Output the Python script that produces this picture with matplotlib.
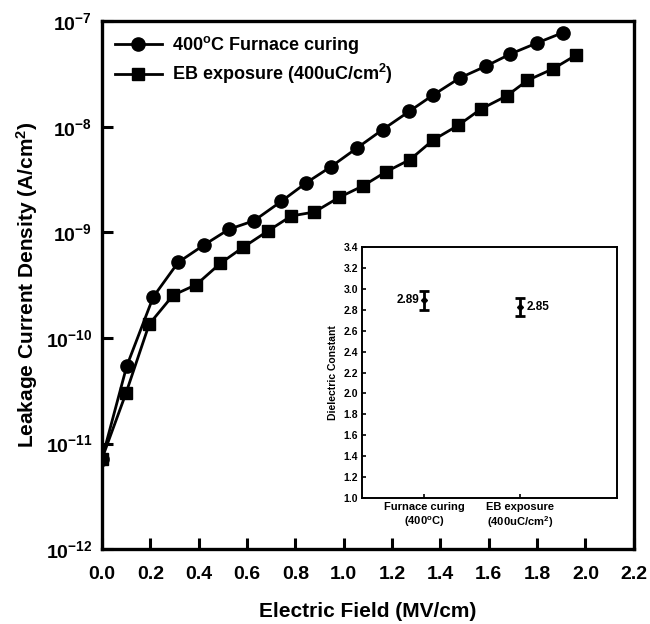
import matplotlib
matplotlib.use("Agg")
import matplotlib.pyplot as plt

plt.rcParams['font.family'] = ['Liberation Sans', 'DejaVu Sans']
plt.rcParams['font.weight'] = 'bold'
plt.rcParams['mathtext.fontset'] = 'custom'
plt.rcParams['mathtext.rm'] = 'Liberation Sans:bold'
plt.rcParams['mathtext.bf'] = 'Liberation Sans:bold'
plt.rcParams['mathtext.it'] = 'Liberation Sans:bold'

# leakage current, 400C furnace curing
field_furnace = [0.0, 0.102, 0.212, 0.315, 0.422, 0.525, 0.629, 0.742, 0.845, 0.948,
                 1.055, 1.161, 1.271, 1.37, 1.48, 1.588, 1.69, 1.798, 1.907]
j_furnace = [7.2e-12, 5.4e-11, 2.45e-10, 5.2e-10, 7.6e-10, 1.07e-9, 1.29e-9, 1.97e-9, 2.95e-9, 4.2e-9,
             6.3e-9, 9.4e-9, 1.4e-8, 2.0e-8, 2.9e-8, 3.75e-8, 4.9e-8, 6.2e-8, 7.8e-8]

# leakage current, EB exposure 400uC/cm2
field_eb = [0.0, 0.099, 0.195, 0.294, 0.39, 0.49, 0.583, 0.686, 0.783, 0.879, 0.98,
            1.079, 1.175, 1.275, 1.37, 1.473, 1.567, 1.674, 1.76, 1.867, 1.963]
j_eb = [7.2e-12, 3.0e-11, 1.35e-10, 2.54e-10, 3.2e-10, 5.1e-10, 7.2e-10, 1.03e-9, 1.43e-9, 1.56e-9, 2.14e-9,
        2.75e-9, 3.75e-9, 4.9e-9, 7.5e-9, 1.03e-8, 1.47e-8, 1.96e-8, 2.75e-8, 3.55e-8, 4.8e-8]

# inset: dielectric constant
k_names = ['Furnace curing\n(400$^{o}$C)', 'EB exposure\n(400uC/cm$^{2}$)']
k_values = [2.89, 2.83]
k_err = [0.09, 0.085]
k_labels = ['2.89', '2.85']

x_ticks = [0.0, 0.2, 0.4, 0.6, 0.8, 1.0, 1.2, 1.4, 1.6, 1.8, 2.0, 2.2]
y_ticks = [1e-12, 1e-11, 1e-10, 1e-9, 1e-8, 1e-7]
y_ticklabels = [r'$10^{-12}$', r'$10^{-11}$', r'$10^{-10}$', r'$10^{-9}$', r'$10^{-8}$', r'$10^{-7}$']

fig = plt.figure(figsize=(6.5, 6.24), dpi=100)
ax = fig.add_axes([0.157, 0.12, 0.818, 0.846])

ax.plot(field_furnace, j_furnace, '-o', color='black', lw=2, ms=9.5,
        label='400$^{o}$C Furnace curing')
ax.plot(field_eb, j_eb, '-s', color='black', lw=2, ms=9,
        label='EB exposure (400uC/cm$^{2}$)')

ax.set_yscale('log')
ax.set_xlim(0, 2.2)
ax.set_ylim(1e-12, 1e-7)
ax.set_xticks(x_ticks)
ax.set_xticklabels([f'{v:.1f}' for v in x_ticks], fontsize=14, fontweight='bold')
ax.set_yticks(y_ticks)
ax.set_yticklabels(y_ticklabels, fontsize=14)
ax.yaxis.set_minor_locator(matplotlib.ticker.NullLocator())
ax.tick_params(direction='in', length=8, width=2.2)
ax.tick_params(axis='x', pad=12)
ax.tick_params(axis='y', pad=7)
for s in ax.spines.values():
    s.set_linewidth(2.4)

ax.set_xlabel('Electric Field (MV/cm)', fontsize=15, fontweight='bold', labelpad=14)
ax.set_ylabel('Leakage Current Density (A/cm$^{2}$)', fontsize=15, fontweight='bold', labelpad=4)

ax.legend(loc='upper left', frameon=False, fontsize=13, handlelength=2.6,
          borderaxespad=0.3, labelspacing=0.35, handletextpad=0.6)

# inset
ins = fig.add_axes([0.557, 0.202, 0.392, 0.402])
ins.errorbar([0, 1], k_values, yerr=k_err, fmt='D', color='black', ms=3,
             capsize=3.5, capthick=2, elinewidth=2)
ins.set_xlim(-0.645, 2.005)
ins.set_ylim(1.0, 3.4)
ins.set_yticks([1.0 + 0.2 * i for i in range(13)])
ins.set_yticklabels([f'{1.0 + 0.2 * i:.1f}' for i in range(13)], fontsize=7.5)
ins.set_xticks([0, 1])
ins.set_xticklabels(k_names, fontsize=8)
ins.tick_params(direction='in', length=3, width=1.2, pad=3)
for s in ins.spines.values():
    s.set_linewidth(1.4)
ins.set_ylabel('Dielectric Constant', fontsize=7.5, fontweight='bold', labelpad=4)
ins.text(-0.05, k_values[0], k_labels[0], ha='right', va='center', fontsize=8.5)
ins.text(1.07, k_values[1], k_labels[1], ha='left', va='center', fontsize=8.5)

fig.savefig('out.png', dpi=100)
